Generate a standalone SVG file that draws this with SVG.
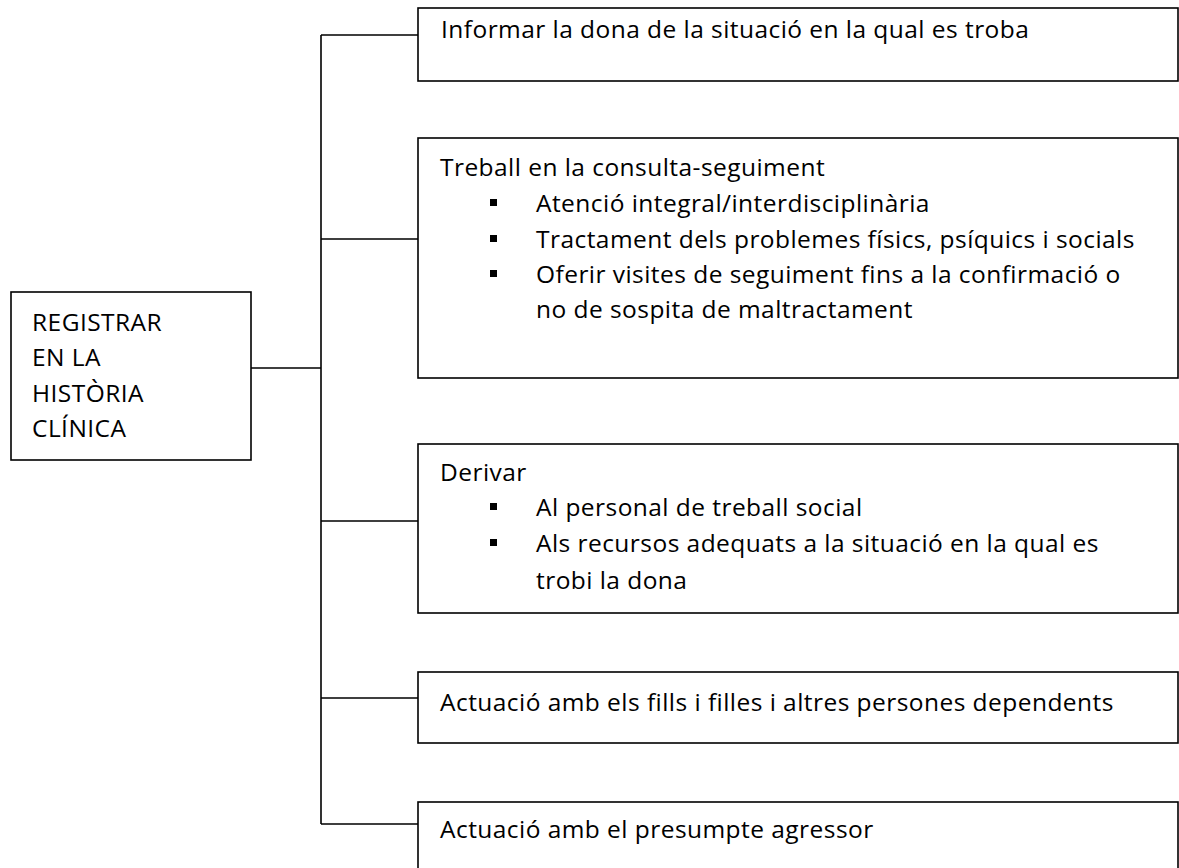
<svg xmlns="http://www.w3.org/2000/svg" width="1179" height="868" viewBox="0 0 1179 868">
<style>
.box{fill:#fff;stroke:#000;stroke-width:1.6}
.con{fill:none;stroke:#000;stroke-width:1.6}
text{font-family:"Open Sans",Lato,"Liberation Sans",sans-serif;font-size:24.5px;letter-spacing:0.45px;fill:#000}
.bul{fill:#000}
</style>
<rect width="1179" height="868" fill="#fff"/>
<g id="connectors">
<path class="con" d="M251,368H321M321,35V824M321,35H418M321,239H418M321,521H418M321,698H418M321,824H418"/>
</g>
<g id="root">
<rect class="box" x="11" y="292" width="240" height="168"/>
<text x="32" y="331">REGISTRAR</text>
<text x="32" y="366">EN LA</text>
<text x="32" y="402">HISTÒRIA</text>
<text x="32" y="437">CLÍNICA</text>
</g>
<g id="n1">
<rect class="box" x="418" y="8" width="760" height="73"/>
<text x="441" y="38">Informar la dona de la situació en la qual es troba</text>
</g>
<g id="n2">
<rect class="box" x="418" y="138" width="760" height="240"/>
<text x="440" y="176">Treball en la consulta-seguiment</text>
<rect class="bul" x="490" y="199" width="7" height="7"/>
<text x="536" y="212">Atenció integral/interdisciplinària</text>
<rect class="bul" x="490" y="235" width="7" height="7"/>
<text x="536" y="248">Tractament dels problemes físics, psíquics i socials</text>
<rect class="bul" x="490" y="270" width="7" height="7"/>
<text x="536" y="283">Oferir visites de seguiment fins a la confirmació o</text>
<text x="536" y="318">no de sospita de maltractament</text>
</g>
<g id="n3">
<rect class="box" x="418" y="444" width="760" height="169"/>
<text x="440" y="481">Derivar</text>
<rect class="bul" x="490" y="503" width="7" height="7"/>
<text x="536" y="516">Al personal de treball social</text>
<rect class="bul" x="490" y="539" width="7" height="7"/>
<text x="536" y="552">Als recursos adequats a la situació en la qual es</text>
<text x="536" y="589">trobi la dona</text>
</g>
<g id="n4">
<rect class="box" x="418" y="672" width="760" height="71"/>
<text x="440" y="711">Actuació amb els fills i filles i altres persones dependents</text>
</g>
<g id="n5">
<rect class="box" x="418" y="802" width="760" height="80"/>
<text x="440" y="838">Actuació amb el presumpte agressor</text>
</g>
</svg>
